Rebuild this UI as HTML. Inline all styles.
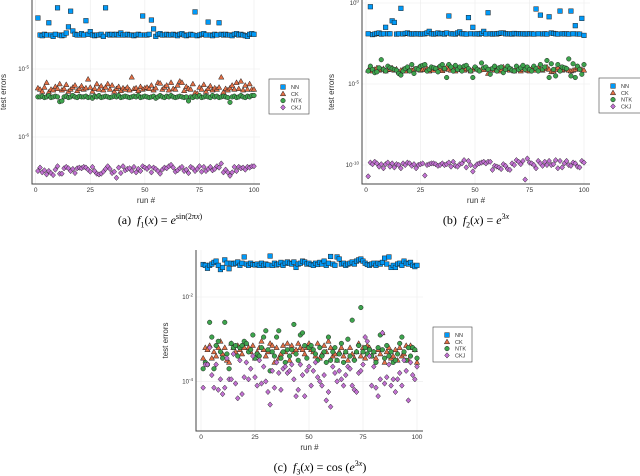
<!DOCTYPE html>
<html><head><meta charset="utf-8">
<style>
body{margin:0;background:#fff;width:640px;height:476px;overflow:hidden;position:relative;font-family:"Liberation Sans",sans-serif}
svg{position:absolute;left:0;top:0}
.cap{position:absolute;font-family:"Liberation Serif",serif;font-size:12px;color:#000;white-space:nowrap;transform:translateX(-50%)}
.cap i{font-style:italic}
.cap sup{font-size:8px}
</style></head><body>
<svg id="chart" width="640" height="476" xmlns="http://www.w3.org/2000/svg"></svg>
<div class="cap" style="left:160px;top:212px">(a)&nbsp; <i>f</i><sub style="font-size:8px">1</sub>(<i>x</i>) = <i>e</i><sup>sin(2π<i>x</i>)</sup></div>
<div class="cap" style="left:476px;top:212px">(b)&nbsp; <i>f</i><sub style="font-size:8px">2</sub>(<i>x</i>) = <i>e</i><sup>3<i>x</i></sup></div>
<div class="cap" style="left:320px;top:459px">(c)&nbsp; <i>f</i><sub style="font-size:8px">3</sub>(<i>x</i>) = cos (<i>e</i><sup>3<i>x</i></sup>)</div>
<script>
// log10(test error) per run, panel a
const aNN=[-4.25,-4.5,-4.51,-4.49,-4.5,-4.32,-4.5,-4.52,-4.49,-4.1,-4.5,-4.51,-4.5,-4.47,-4.38,-4.15,-4.44,-4.49,-4.5,-4.5,-4.48,-4.5,-4.29,-4.49,-4.45,-4.5,-4.51,-4.5,-4.5,-4.49,-4.52,-4.1,-4.49,-4.5,-4.49,-4.5,-4.49,-4.5,-4.47,-4.5,-4.5,-4.49,-4.5,-4.5,-4.51,-4.5,-4.49,-4.5,-4.22,-4.5,-4.5,-4.49,-4.28,-4.41,-4.52,-4.49,-4.48,-4.5,-4.5,-4.49,-4.5,-4.5,-4.49,-4.5,-4.51,-4.49,-4.48,-4.5,-4.51,-4.5,-4.49,-4.5,-4.16,-4.51,-4.5,-4.49,-4.48,-4.5,-4.31,-4.5,-4.51,-4.49,-4.5,-4.32,-4.49,-4.5,-4.49,-4.5,-4.5,-4.51,-4.49,-4.48,-4.5,-4.49,-4.5,-4.51,-4.52,-4.49,-4.48,-4.49];
const aCK=[-5.28,-5.3,-5.33,-5.27,-5.2,-5.34,-5.3,-5.31,-5.26,-5.29,-5.22,-5.31,-5.29,-5.23,-5.33,-5.3,-5.27,-5.24,-5.32,-5.29,-5.25,-5.3,-5.28,-5.15,-5.27,-5.33,-5.29,-5.22,-5.3,-5.25,-5.31,-5.27,-5.22,-5.3,-5.24,-5.33,-5.29,-5.26,-5.32,-5.28,-5.3,-5.27,-5.31,-5.12,-5.29,-5.28,-5.32,-5.26,-5.3,-5.28,-5.27,-5.29,-5.24,-5.31,-5.28,-5.2,-5.21,-5.3,-5.27,-5.24,-5.31,-5.2,-5.29,-5.3,-5.24,-5.18,-5.2,-5.32,-5.26,-5.29,-5.3,-5.22,-5.35,-5.36,-5.27,-5.3,-5.23,-5.33,-5.29,-5.25,-5.31,-5.28,-5.3,-5.27,-5.12,-5.34,-5.29,-5.31,-5.28,-5.24,-5.3,-5.2,-5.29,-5.18,-5.31,-5.24,-5.3,-5.22,-5.3,-5.3];
const aNTK=[-5.41,-5.41,-5.4,-5.42,-5.41,-5.39,-5.42,-5.41,-5.4,-5.41,-5.48,-5.47,-5.41,-5.4,-5.42,-5.41,-5.39,-5.41,-5.42,-5.4,-5.41,-5.41,-5.4,-5.42,-5.41,-5.43,-5.4,-5.41,-5.39,-5.42,-5.41,-5.4,-5.41,-5.42,-5.41,-5.4,-5.41,-5.39,-5.42,-5.41,-5.4,-5.41,-5.42,-5.41,-5.4,-5.41,-5.39,-5.42,-5.41,-5.4,-5.41,-5.42,-5.41,-5.4,-5.43,-5.41,-5.39,-5.41,-5.42,-5.4,-5.41,-5.39,-5.41,-5.42,-5.41,-5.4,-5.41,-5.42,-5.41,-5.47,-5.41,-5.42,-5.4,-5.41,-5.39,-5.42,-5.41,-5.4,-5.41,-5.42,-5.39,-5.41,-5.4,-5.42,-5.41,-5.4,-5.41,-5.42,-5.49,-5.41,-5.4,-5.42,-5.41,-5.39,-5.41,-5.42,-5.4,-5.41,-5.39,-5.39];
const aCKJ=[-6.5,-6.45,-6.52,-6.49,-6.55,-6.5,-6.53,-6.56,-6.48,-6.43,-6.54,-6.54,-6.46,-6.44,-6.46,-6.5,-6.47,-6.53,-6.46,-6.45,-6.46,-6.44,-6.45,-6.48,-6.51,-6.44,-6.5,-6.54,-6.55,-6.54,-6.51,-6.47,-6.43,-6.47,-6.53,-6.51,-6.6,-6.45,-6.53,-6.43,-6.49,-6.47,-6.46,-6.5,-6.44,-6.52,-6.47,-6.5,-6.43,-6.45,-6.47,-6.44,-6.52,-6.45,-6.47,-6.5,-6.54,-6.48,-6.45,-6.46,-6.43,-6.41,-6.45,-6.51,-6.49,-6.46,-6.44,-6.5,-6.48,-6.53,-6.44,-6.46,-6.5,-6.47,-6.43,-6.51,-6.44,-6.5,-6.47,-6.44,-6.49,-6.47,-6.43,-6.45,-6.39,-6.52,-6.48,-6.52,-6.57,-6.52,-6.44,-6.5,-6.44,-6.46,-6.45,-6.48,-6.44,-6.45,-6.43,-6.43];
// panel b
const bNN=[-1.9,-0.23,-1.95,-1.92,-1.88,-1.85,-1.92,-1.9,-1.5,-1.9,-1.9,-1.1,-1.2,-1.92,-1.9,-0.33,-1.91,-1.88,-1.85,-1.9,-1.92,-1.9,-1.91,-1.9,-1.92,-1.91,-1.9,-1.85,-1.75,-1.9,-1.92,-1.9,-1.85,-1.9,-1.88,-1.92,-1.85,-0.8,-1.9,-1.91,-1.92,-1.85,-1.78,-1.9,-1.9,-1.92,-0.9,-1.9,-1.5,-1.91,-1.9,-1.92,-1.88,-1.75,-1.91,-0.6,-1.9,-1.92,-1.9,-1.91,-1.88,-1.85,-1.85,-1.9,-1.91,-1.9,-1.92,-1.88,-1.9,-1.9,-1.91,-1.9,-1.92,-1.9,-1.91,-1.9,-1.92,-0.37,-1.9,-0.75,-1.91,-1.9,-1.92,-0.85,-1.85,-1.88,-1.9,-1.92,-0.5,-1.9,-1.91,-1.9,-1.92,-0.5,-1.9,-1.4,-1.91,-1.92,-0.95,-2.0];
const bCK=[-4.15,-4.05,-4.2,-4.1,-4.0,-4.15,-4.1,-4.05,-4.2,-4.12,-4.1,-4.0,-4.15,-4.08,-4.25,-4.15,-4.1,-4.2,-4.05,-4.12,-4.15,-4.08,-4.1,-4.0,-4.15,-4.1,-4.12,-4.05,-4.2,-4.1,-4.15,-4.05,-4.0,-4.1,-4.18,-4.08,-3.95,-4.1,-4.15,-4.05,-4.2,-4.1,-4.0,-4.12,-4.15,-4.05,-4.1,-4.2,-4.1,-4.0,-4.05,-4.15,-4.1,-4.12,-4.0,-4.35,-4.1,-4.05,-4.15,-4.1,-4.2,-4.12,-3.95,-4.1,-4.05,-4.15,-4.1,-4.2,-4.05,-4.1,-4.2,-4.1,-4.0,-4.15,-4.2,-4.05,-4.1,-4.15,-4.0,-4.1,-4.15,-4.05,-3.95,-4.1,-4.25,-4.2,-4.1,-4.0,-4.12,-4.15,-4.1,-4.05,-4.15,-4.2,-4.15,-4.1,-4.0,-4.05,-4.1,-4.15];
const bNTK=[-4.2,-3.9,-4.1,-4.3,-4.25,-4.0,-3.5,-4.1,-4.2,-3.9,-4.0,-4.05,-4.1,-4.15,-4.35,-4.45,-4.2,-4.05,-3.95,-4.2,-3.8,-4.35,-4.05,-4.1,-3.9,-3.85,-3.8,-4.2,-4.1,-3.95,-4.0,-4.05,-4.25,-3.9,-3.8,-4.05,-4.6,-3.8,-3.95,-4.2,-3.85,-4.1,-3.95,-4.2,-3.9,-3.85,-4.05,-4.2,-4.6,-3.95,-4.1,-4.2,-3.7,-4.0,-3.95,-4.1,-4.4,-4.05,-3.9,-4.2,-4.0,-3.95,-4.3,-4.1,-3.9,-4.05,-4.15,-4.2,-3.9,-4.1,-4.0,-3.85,-4.1,-3.95,-4.1,-4.2,-3.9,-4.05,-4.2,-3.8,-4.1,-3.95,-3.55,-4.6,-3.75,-4.1,-4.5,-3.8,-4.2,-3.95,-4.0,-4.05,-3.45,-4.5,-3.75,-4.6,-3.9,-4.1,-4.4,-3.8];
const bCKJ=[-10.7,-9.85,-9.95,-9.8,-9.9,-10.1,-9.95,-10.2,-9.95,-9.85,-10.1,-9.9,-10.15,-9.95,-10.0,-10.2,-9.9,-10.0,-9.85,-9.9,-10.05,-9.95,-10.2,-10.0,-9.95,-9.9,-10.65,-10.0,-9.95,-9.9,-9.9,-9.95,-10.05,-10.0,-9.9,-10.0,-9.95,-9.85,-10.1,-9.8,-10.05,-10.1,-9.95,-9.9,-9.7,-10.15,-9.75,-10.0,-10.4,-10.1,-9.95,-9.9,-9.85,-9.8,-9.9,-9.8,-9.8,-10.3,-10.05,-10.1,-10.15,-10.25,-9.95,-10.05,-10.25,-10.3,-9.9,-10.0,-9.7,-9.8,-9.95,-9.75,-10.9,-9.6,-9.85,-9.9,-10.0,-10.2,-9.75,-9.9,-10.05,-9.8,-10.0,-9.75,-10.0,-9.95,-9.7,-10.2,-9.75,-10.15,-9.9,-9.75,-10.0,-10.05,-9.85,-9.9,-10.1,-10.15,-9.75,-9.85];
// panel c
const cNN=[-1.23,-1.25,-1.32,-1.25,-1.22,-1.18,-1.15,-1.25,-1.35,-1.3,-1.12,-1.2,-1.33,-1.2,-1.22,-1.2,-1.17,-1.25,-1.2,-1.05,-1.22,-1.25,-1.2,-1.23,-1.24,-1.22,-1.25,-1.2,-1.25,-1.22,-1.24,-1.03,-1.25,-1.2,-1.24,-1.22,-1.18,-1.25,-1.2,-1.17,-1.2,-1.22,-1.17,-1.3,-1.22,-1.2,-1.15,-1.17,-1.22,-1.2,-1.23,-1.25,-1.2,-1.23,-1.18,-1.22,-1.15,-1.25,-1.2,-1.04,-1.22,-1.25,-1.05,-1.1,-1.22,-1.2,-1.25,-1.22,-1.2,-1.17,-1.22,-1.15,-1.12,-1.1,-1.15,-1.2,-1.23,-1.25,-1.22,-1.2,-1.25,-1.2,-1.22,-1.18,-1.08,-1.22,-1.05,-1.3,-1.25,-1.3,-1.22,-1.2,-1.25,-1.15,-1.2,-1.22,-1.18,-1.25,-1.28,-1.25];
const cCK=[-3.45,-3.2,-3.25,-3.15,-3.45,-3.3,-3.4,-3.2,-3.05,-3.35,-3.2,-3.5,-3.55,-3.1,-3.2,-3.3,-3.15,-3.25,-3.35,-3.2,-3.1,-3.2,-3.3,-3.15,-3.45,-3.3,-3.2,-3.05,-3.25,-3.4,-3.3,-3.1,-3.15,-3.55,-3.2,-3.45,-3.35,-3.15,-3.3,-3.1,-3.5,-3.15,-3.3,-3.25,-3.1,-3.2,-3.25,-3.35,-3.2,-3.1,-3.25,-3.3,-3.4,-3.1,-3.45,-3.35,-3.15,-3.3,-3.05,-3.2,-3.4,-3.35,-3.5,-3.3,-3.2,-3.4,-3.3,-3.5,-3.2,-3.35,-3.45,-3.3,-3.1,-3.4,-3.2,-3.45,-3.15,-3.2,-3.4,-3.3,-3.45,-3.25,-3.35,-2.85,-3.55,-3.3,-3.2,-3.45,-3.4,-3.25,-3.5,-3.2,-3.4,-3.35,-3.15,-3.5,-3.15,-3.2,-3.25,-3.55];
const cNTK=[-3.7,-3.55,-3.6,-2.6,-2.95,-3.7,-3.15,-3.05,-3.3,-3.45,-2.6,-3.35,-3.7,-3.1,-3.2,-3.15,-3.4,-3.2,-3.15,-3.05,-3.1,-3.3,-3.25,-2.9,-3.45,-3.35,-3.4,-3.2,-2.95,-2.8,-3.25,-3.75,-3.3,-3.4,-2.95,-2.8,-3.45,-3.3,-3.55,-3.25,-3.4,-3.25,-2.65,-3.35,-3.5,-2.9,-2.85,-3.15,-3.45,-3.2,-3.15,-3.25,-3.35,-3.5,-3.2,-3.4,-3.3,-3.55,-2.95,-3.5,-3.3,-3.2,-3.5,-3.35,-3.1,-3.55,-3.3,-3.0,-3.4,-2.55,-3.5,-3.3,-3.15,-2.25,-3.3,-3.2,-3.35,-3.25,-3.4,-3.3,-3.55,-3.2,-2.9,-3.25,-3.45,-3.15,-3.4,-3.3,-3.55,-3.5,-3.35,-3.1,-2.95,-3.3,-3.5,-3.2,-3.4,-3.2,-3.25,-3.45];
const cCKJ=[-4.15,-3.6,-3.6,-3.2,-3.85,-4.15,-3.6,-4.2,-3.95,-4.3,-4.15,-3.45,-3.95,-3.95,-3.35,-4.05,-4.4,-3.5,-4.3,-3.9,-3.55,-3.95,-3.7,-3.4,-3.9,-4.1,-3.5,-4.05,-3.65,-4.0,-4.25,-4.55,-3.75,-4.15,-3.55,-3.8,-4.2,-3.7,-3.65,-3.8,-3.75,-3.6,-3.95,-4.35,-4.2,-3.6,-3.85,-4.35,-3.75,-3.65,-4.1,-3.75,-3.55,-3.9,-4.0,-4.1,-3.85,-4.45,-4.25,-4.6,-3.65,-3.8,-4.0,-3.75,-3.95,-4.1,-3.85,-3.65,-3.7,-4.1,-4.2,-4.25,-3.8,-3.75,-3.6,-2.95,-3.05,-3.4,-4.1,-3.65,-4.15,-4.35,-3.95,-2.85,-4.05,-3.9,-3.6,-4.1,-3.95,-4.25,-3.95,-3.8,-4.1,-3.5,-3.75,-4.45,-3.55,-3.85,-3.95,-3.65];
const seriesNames=["NN","CK","NTK","CKJ"];
const xTicks=[0,25,50,75,100];
const aYTicks=[-5,-6], bYTicks=[0,-5,-10], cYTicks=[-2,-4];

const NS="http://www.w3.org/2000/svg";
const svg=document.getElementById('chart');
const colors=["#009af9","#e26f46","#3da44d","#c271d2"];
function mk(tag,attrs,parent){const e=document.createElementNS(NS,tag);for(const k in attrs)e.setAttribute(k,attrs[k]);(parent||svg).appendChild(e);return e;}
function marker(g,kind,x,y,col){
  const st={fill:col,stroke:"#222","stroke-width":0.5};
  let e;
  if(kind===0){e=mk('rect',Object.assign({x:x-2.3,y:y-2.3,width:4.6,height:4.6},st),g);}
  else if(kind===1){e=mk('polygon',Object.assign({points:`${x},${y-2.8} ${x+2.7},${y+2} ${x-2.7},${y+2}`},st),g);}
  else if(kind===2){e=mk('circle',Object.assign({cx:x,cy:y,r:2.3},st),g);}
  else {e=mk('polygon',Object.assign({points:`${x},${y-2.7} ${x+2.4},${y} ${x},${y+2.7} ${x-2.4},${y}`},st),g);}
  return e;
}
function panel(p,id,data,yTicks){
  const g=mk('g',{});
  
  
  const xs=v=>p.x0+(v-0)*(p.x100-p.x0)/100;
  const ys=v=>p.yRefPx+(p.yRef-v)*p.pxDec;
  // grid
  xTicks.forEach(t=>{const l=mk('line',{x1:xs(t),x2:xs(t),y1:p.top,y2:p.bottom,stroke:"#ebebeb","stroke-width":0.6},g);});
  yTicks.forEach(t=>{const l=mk('line',{x1:p.left,x2:p.right,y1:ys(t),y2:ys(t),stroke:"#ebebeb","stroke-width":0.6},g);});
  // axes
  const ax=mk('path',{d:`M${p.left},${p.top}V${p.bottom}H${p.right}`,fill:"none",stroke:"#444","stroke-width":1},g);
  
  xTicks.forEach(t=>{const tx=mk('text',{x:xs(t),y:p.bottom+8,"font-size":6.5,"text-anchor":"middle",fill:"#333"},g);tx.textContent=t;});
  yTicks.forEach(t=>{const tx=mk('text',{x:p.left-3,y:ys(t)+2,"font-size":6,"text-anchor":"end",fill:"#333"},g);tx.innerHTML=`10<tspan dy="-2.5" font-size="4.5">${t}</tspan>`;});
  const xl=mk('text',{x:(p.left+p.right)/2,y:p.bottom+19,"font-size":8,"text-anchor":"middle",fill:"#333"},g);xl.textContent="run #";
  
  const yl=mk('text',{x:0,y:0,"font-size":8,"text-anchor":"middle",fill:"#333",transform:`translate(${p.yLabX},${(p.top+p.bottom)/2}) rotate(-90)`},g);yl.textContent="test errors";
  
  // series
  data.forEach((arr,s)=>{
    const sg=mk('g',{},g);
    
    
    arr.forEach((v,i)=>{const m=marker(sg,s,xs(i+1),ys(v),colors[s]);
      
      });
  });
  // legend
  const lg=mk('g',{},g);
  
  
  mk('rect',{x:p.lx,y:p.ly,width:p.lw,height:35,fill:"#fff",stroke:"#444","stroke-width":0.6},lg);
  seriesNames.forEach((n,s)=>{const yy=p.ly+8+s*6.8;
    const m=marker(lg,s,p.lx+14,yy,colors[s]);
    
    
    const t=mk('text',{x:p.lx+22,y:yy+2,"font-size":5.5,fill:"#333"},lg);t.textContent=n;
    
    });
}
panel({left:32,right:260,top:0,bottom:184,x0:35.7,x100:254,yRef:-5,yRefPx:69,pxDec:68,yLabX:6,lx:269,ly:79,lw:40},'a',[aNN,aCK,aNTK,aCKJ],aYTicks);
panel({left:362,right:590,top:0,bottom:184,x0:366,x100:584,yRef:-5,yRefPx:84,pxDec:16.2,yLabX:334,lx:599,ly:78,lw:45},'b',[bNN,bCK,bNTK,bCKJ],bYTicks);
panel({left:196,right:423,top:250,bottom:431,x0:201,x100:417,yRef:-2,yRefPx:297,pxDec:42.2,yLabX:168,lx:433,ly:327,lw:39},'c',[cNN,cCK,cNTK,cCKJ],cYTicks);
</script>
</body></html>
